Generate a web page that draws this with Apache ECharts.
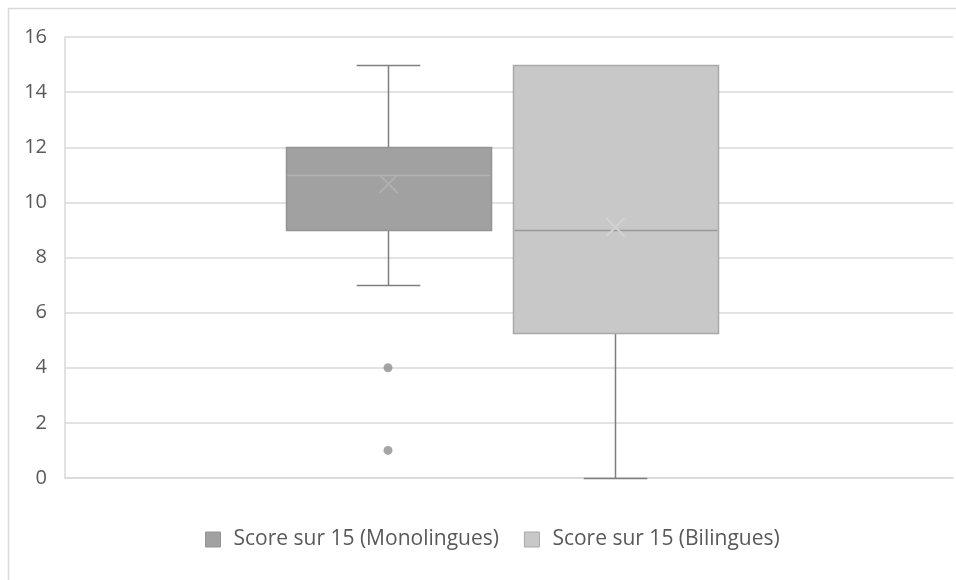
<!DOCTYPE html>
<html>
<head>
<meta charset="utf-8">
<script src="https://cdn.jsdelivr.net/npm/echarts@6/dist/echarts.min.js"></script>
<style>
  html, body { margin: 0; padding: 0; background: #fff; }
  #chart { width: 956px; height: 580px; }
</style>
</head>
<body>
<div id="chart"></div>
<script>
// Group labels and legend names
const groups = ['Monolingues', 'Bilingues'];
const seriesNames = ['Score sur 15 (Monolingues)', 'Score sur 15 (Bilingues)'];

// Five-number summaries per group: [min, Q1, median, Q3, max]
const monoStats = [7, 9, 11, 12, 15];
const biliStats = [0, 5.25, 9, 15, 15];

// Group means (drawn as an x marker)
const monoMean = 10.67;
const biliMean = 9.1;

// Outlying scores for the monolingual group
const monoOutliers = [4, 1];

// Value-axis ticks
const yTicks = [0, 2, 4, 6, 8, 10, 12, 14, 16];

const chart = echarts.init(document.getElementById('chart'), null, { renderer: 'canvas' });

const palette = [
  { fill: '#a1a1a1', border: '#939393', median: '#b3b3b3', mean: '#b0b0b0' },
  { fill: '#c8c8c8', border: '#a9a9a9', median: '#999999', mean: '#d2d2d2' }
];
const whiskerColor = '#7f7f7f';

function makeRenderer(style) {
  return function (params, api) {
    const cat = api.value(0);
    const lo = api.value(1), q1 = api.value(2), med = api.value(3),
          q3 = api.value(4), hi = api.value(5), mean = api.value(6);
    const band = api.size([1, 0])[0];
    const boxW = band * 0.903;
    const capW = band * 0.28;
    const cx = Math.round(api.coord([cat, 0])[0]) + 0.5;
    const y = v => Math.round(api.coord([cat, v])[1]) + 0.5;
    const left = Math.round(cx - boxW / 2) + 0.5;
    const right = Math.round(cx + boxW / 2) + 0.5;
    const children = [];
    const line = (x1, y1, x2, y2, color, w) => ({
      type: 'line',
      shape: { x1, y1, x2, y2 },
      style: { stroke: color, lineWidth: w || 1 }
    });
    // whiskers and caps
    if (hi > q3) {
      children.push(line(cx, y(hi), cx, y(q3), whiskerColor, 1.5));
      children.push(line(cx - capW / 2, y(hi), cx + capW / 2, y(hi), whiskerColor, 1.5));
    }
    if (lo < q1) {
      children.push(line(cx, y(q1), cx, y(lo), whiskerColor, 1.5));
      children.push(line(cx - capW / 2, y(lo), cx + capW / 2, y(lo), whiskerColor, 1.5));
    }
    // box
    children.push({
      type: 'rect',
      shape: { x: left, y: y(q3), width: right - left, height: y(q1) - y(q3) },
      style: { fill: style.fill, stroke: style.border, lineWidth: 1.5 }
    });
    // median
    children.push(line(left + 1, y(med), right - 1, y(med), style.median, 1.5));
    // mean marker (x)
    const my = api.coord([cat, mean])[1];
    const s = 9;
    children.push(line(cx - s, my - s, cx + s, my + s, style.mean, 2));
    children.push(line(cx - s, my + s, cx + s, my - s, style.mean, 2));
    return { type: 'group', children };
  };
}

const yAxisBase = { type: 'value', min: 0, max: 16, interval: 2 };

chart.setOption({
  backgroundColor: '#ffffff',
  animation: false,
  graphic: [{
    type: 'rect',
    shape: { x: 8.5, y: 8.5, width: 960, height: 600 },
    style: { fill: 'none', stroke: '#d9d9d9', lineWidth: 1.5 },
    silent: true
  }],
  legend: {
    top: 524,
    left: 200,
    itemWidth: 15,
    itemHeight: 15,
    itemGap: 25,
    icon: 'rect',
    textStyle: { color: '#595959', fontSize: 21, fontFamily: 'Open Sans', padding: [0, 0, 0, 8] },
    data: [
      { name: seriesNames[0], itemStyle: { color: palette[0].fill, borderColor: palette[0].border, borderWidth: 1 } },
      { name: seriesNames[1], itemStyle: { color: palette[1].fill, borderColor: palette[1].border, borderWidth: 1 } }
    ]
  },
  grid: [
    { left: 65, right: 3, top: 37, bottom: 102 },
    { left: 274.5, width: 454, top: 37, bottom: 102 }
  ],
  xAxis: [
    {
      type: 'category', gridIndex: 0, data: [''],
      axisLine: { show: true, lineStyle: { color: '#d9d9d9', width: 1.5 } },
      axisTick: { show: false }, axisLabel: { show: false }, splitLine: { show: false }
    },
    {
      type: 'category', gridIndex: 1, data: groups,
      axisLine: { show: false }, axisTick: { show: false }, axisLabel: { show: false }
    }
  ],
  yAxis: [
    Object.assign({}, yAxisBase, {
      gridIndex: 0,
      axisLine: { show: true, lineStyle: { color: '#d9d9d9', width: 1.5 } },
      axisTick: { show: false },
      axisLabel: {
        color: '#595959', fontSize: 20, fontFamily: 'Open Sans', margin: 18,
        customValues: yTicks
      },
      splitLine: { show: true, lineStyle: { color: '#d9d9d9', width: 1.5 } }
    }),
    Object.assign({}, yAxisBase, {
      gridIndex: 1,
      axisLine: { show: false }, axisTick: { show: false },
      axisLabel: { show: false }, splitLine: { show: false }
    })
  ],
  series: [
    {
      name: seriesNames[0], type: 'custom', xAxisIndex: 1, yAxisIndex: 1,
      itemStyle: { color: palette[0].fill },
      renderItem: makeRenderer(palette[0]),
      encode: { x: 0, y: [1, 2, 3, 4, 5, 6] },
      data: [[0].concat(monoStats, [monoMean])]
    },
    {
      name: seriesNames[1], type: 'custom', xAxisIndex: 1, yAxisIndex: 1,
      itemStyle: { color: palette[1].fill },
      renderItem: makeRenderer(palette[1]),
      encode: { x: 0, y: [1, 2, 3, 4, 5, 6] },
      data: [[1].concat(biliStats, [biliMean])]
    },
    {
      name: 'outliers', type: 'scatter', xAxisIndex: 1, yAxisIndex: 1,
      symbol: 'circle', symbolSize: 9,
      itemStyle: { color: '#8e8e8e' },
      data: monoOutliers.map(v => [0, v])
    }
  ]
});
</script>
</body>
</html>
